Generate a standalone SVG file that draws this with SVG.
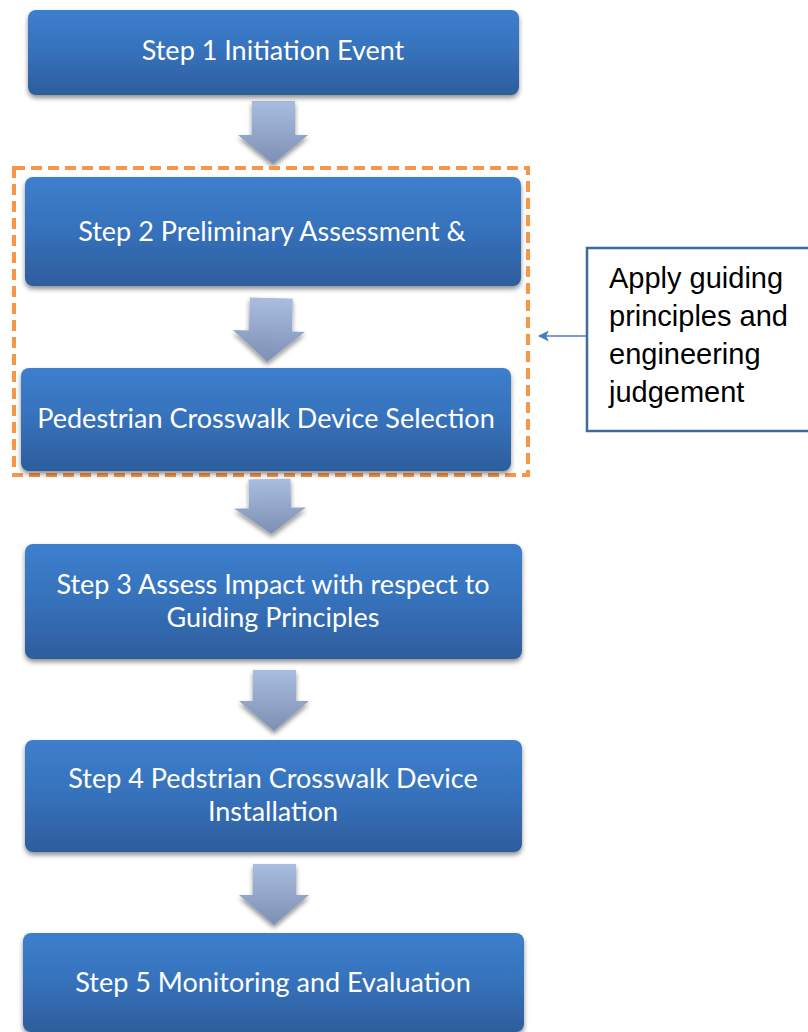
<svg xmlns="http://www.w3.org/2000/svg" width="808" height="1032" viewBox="0 0 808 1032">
<defs>
<linearGradient id="boxg" x1="0" y1="0" x2="0" y2="1">
<stop offset="0" stop-color="#3d7fcd"/>
<stop offset="0.5" stop-color="#3671bb"/>
<stop offset="1" stop-color="#2d5d9c"/>
</linearGradient>
<linearGradient id="arrg" x1="0" y1="0" x2="0" y2="1">
<stop offset="0" stop-color="#a9bde0"/>
<stop offset="1" stop-color="#7d90b3"/>
</linearGradient>
<filter id="sh" x="-5%" y="-10%" width="110%" height="130%">
<feGaussianBlur in="SourceAlpha" stdDeviation="2.5"/>
<feOffset dx="0" dy="3"/>
<feComponentTransfer><feFuncA type="linear" slope="0.45"/></feComponentTransfer>
<feMerge><feMergeNode/><feMergeNode in="SourceGraphic"/></feMerge>
</filter>
<marker id="ah" viewBox="0 0 10 10" refX="9" refY="5" markerWidth="13" markerHeight="11" orient="auto" markerUnits="userSpaceOnUse">
<path d="M0,0 L10,5 L0,10 L2.5,5 Z" fill="#4a7ebb"/>
</marker>
</defs>
<style>
.box{fill:url(#boxg);filter:url(#sh)}
.arr{fill:url(#arrg);filter:url(#sh)}
.t{font-family:Lato,"Open Sans",sans-serif;font-size:27px;fill:#ffffff;text-anchor:middle}
.s{font-family:"Liberation Sans",Arial,sans-serif;font-size:29px;fill:#000000}
</style>
<g id="connectors">
<path class="arr" d="M252,101 H295 V135 H308 L273,164 L238,135 H252 Z"/>
<path class="arr" d="M249,298 H292 V331 H305 L268,362 L233,331 H249 Z" transform="rotate(1.5 270 330)"/>
<path class="arr" d="M249,479 H291 V508 H306 L271,534 L234,508 H249 Z" transform="rotate(-1 270 505)"/>
<path class="arr" d="M253,670 H296 V701 H309 L274,731 L239,701 H253 Z"/>
<path class="arr" d="M253,864 H296 V895 H309 L274,925 L239,895 H253 Z"/>
<line x1="586" y1="336" x2="539" y2="336" stroke="#4a7ebb" stroke-width="1.5" marker-end="url(#ah)"/>
</g>
<g id="group2">
<rect x="14" y="168" width="514" height="307" fill="none" stroke="#f79646" stroke-width="4" stroke-dasharray="11 6"/>
</g>
<g id="step1">
<rect class="box" x="28" y="10" width="491" height="85" rx="8"/>
<text class="t" x="273" y="60">Step 1 Initiation Event</text>
</g>
<g id="step2">
<rect class="box" x="25" y="177" width="496" height="109" rx="8"/>
<text class="t" x="272" y="241">Step 2 Preliminary Assessment &amp;</text>
</g>
<g id="selection">
<rect class="box" x="21" y="368" width="490" height="103" rx="8"/>
<text class="t" x="266" y="428">Pedestrian Crosswalk Device Selection</text>
</g>
<g id="step3">
<rect class="box" x="25" y="544" width="497" height="115" rx="8"/>
<text class="t" x="273" y="594">Step 3 Assess Impact with respect to</text>
<text class="t" x="273" y="627">Guiding Principles</text>
</g>
<g id="step4">
<rect class="box" x="25" y="740" width="497" height="112" rx="8"/>
<text class="t" x="273" y="788">Step 4 Pedstrian Crosswalk Device</text>
<text class="t" x="273" y="821">Installation</text>
</g>
<g id="step5">
<rect class="box" x="23" y="933" width="501" height="99" rx="8"/>
<text class="t" x="273" y="992">Step 5 Monitoring and Evaluation</text>
</g>
<g id="note">
<rect x="587" y="248" width="230" height="183" fill="#ffffff" stroke="#3f6a9e" stroke-width="2.5"/>
<text class="s" x="609" y="288">Apply guiding</text>
<text class="s" x="609" y="326">principles and</text>
<text class="s" x="609" y="364">engineering</text>
<text class="s" x="609" y="402">judgement</text>
</g>
</svg>
